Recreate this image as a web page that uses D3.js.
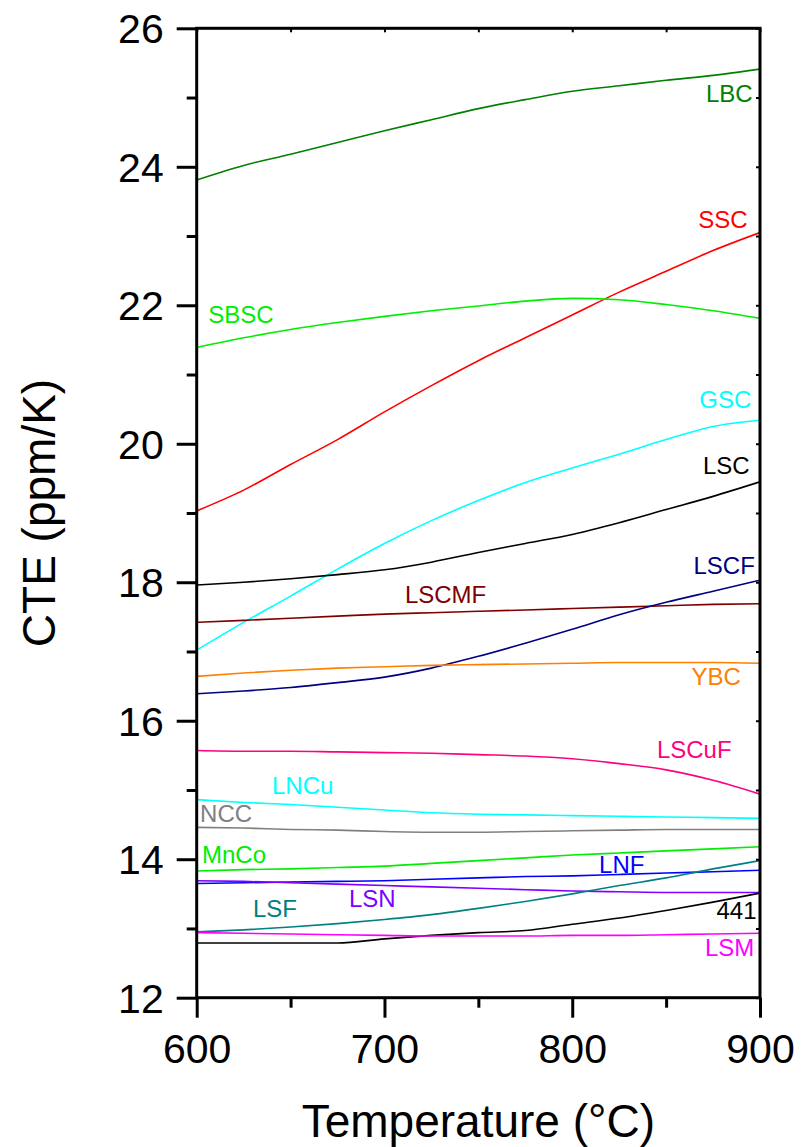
<!DOCTYPE html>
<html>
<head>
<meta charset="utf-8">
<script src="https://cdn.jsdelivr.net/npm/d3@7"></script>
<style>
  html, body { margin: 0; padding: 0; background: #fff; }
  svg { display: block; font-family: "Liberation Sans", Arial, sans-serif; }
</style>
</head>
<body>
<svg id="chart" width="801" height="1147"></svg>
<script>
// ---------- DATA ----------
const temps = [600, 625, 650, 675, 700, 725, 750, 775, 800, 825, 850, 875, 900];

const cteLBC   = [23.81, 24.02, 24.18, 24.35, 24.52, 24.68, 24.84, 24.97, 25.09, 25.17, 25.25, 25.32, 25.41];
const cteSSC   = [19.03, 19.33, 19.70, 20.06, 20.46, 20.84, 21.20, 21.53, 21.86, 22.19, 22.49, 22.79, 23.05];
const cteSBSC  = [21.39, 21.53, 21.65, 21.75, 21.84, 21.92, 21.99, 22.06, 22.10, 22.08, 22.01, 21.92, 21.81];
const cteGSC   = [17.02, 17.42, 17.80, 18.19, 18.56, 18.89, 19.18, 19.44, 19.65, 19.85, 20.06, 20.25, 20.34];
const cteLSC   = [17.96, 18.00, 18.05, 18.11, 18.18, 18.29, 18.43, 18.56, 18.69, 18.86, 19.05, 19.24, 19.45];
const cteLSCMF = [17.42, 17.45, 17.48, 17.51, 17.54, 17.56, 17.58, 17.60, 17.62, 17.64, 17.66, 17.68, 17.69];
const cteLSCF  = [16.39, 16.43, 16.48, 16.55, 16.63, 16.76, 16.93, 17.12, 17.32, 17.53, 17.71, 17.87, 18.03];
const cteYBC   = [16.64, 16.69, 16.73, 16.76, 16.78, 16.80, 16.81, 16.82, 16.83, 16.84, 16.84, 16.84, 16.83];
const cteLSCuF = [15.57, 15.56, 15.56, 15.55, 15.54, 15.53, 15.51, 15.49, 15.45, 15.38, 15.29, 15.14, 14.94];
const cteLNCu  = [14.86, 14.82, 14.79, 14.75, 14.71, 14.67, 14.65, 14.64, 14.63, 14.62, 14.61, 14.60, 14.59];
const cteNCC   = [14.46, 14.45, 14.43, 14.42, 14.40, 14.39, 14.39, 14.40, 14.41, 14.42, 14.43, 14.43, 14.43];
const cteMnCo  = [13.83, 13.85, 13.86, 13.88, 13.90, 13.94, 13.98, 14.02, 14.06, 14.09, 14.12, 14.15, 14.18];
const cteLNF   = [13.65, 13.66, 13.67, 13.68, 13.69, 13.71, 13.73, 13.75, 13.76, 13.78, 13.80, 13.82, 13.84];
const cteLSN   = [13.69, 13.68, 13.66, 13.64, 13.62, 13.60, 13.58, 13.56, 13.54, 13.53, 13.52, 13.52, 13.52];
const cteLSF   = [12.95, 12.98, 13.02, 13.07, 13.13, 13.20, 13.29, 13.39, 13.50, 13.62, 13.73, 13.86, 13.98];
const cte441   = [12.79, 12.79, 12.79, 12.79, 12.85, 12.90, 12.94, 12.97, 13.06, 13.15, 13.26, 13.38, 13.51];
const cteLSM   = [12.94, 12.93, 12.92, 12.91, 12.90, 12.89, 12.89, 12.89, 12.90, 12.90, 12.91, 12.92, 12.93];

const seriesNames = ["LBC","SSC","SBSC","GSC","LSC","LSCMF","LSCF","YBC","LSCuF","LNCu","NCC","MnCo","LNF","LSN","LSF","441","LSM"];
const seriesValues = [cteLBC, cteSSC, cteSBSC, cteGSC, cteLSC, cteLSCMF, cteLSCF, cteYBC, cteLSCuF, cteLNCu, cteNCC, cteMnCo, cteLNF, cteLSN, cteLSF, cte441, cteLSM];

// label anchor (temperature, CTE) for each series' text, same order as seriesNames
const labelTemps = [871.2, 867.1, 606.2, 867.7, 869.6, 710.9, 864.6, 863.5, 845.1, 640.1, 601.8, 602.8, 814.3, 681.1, 630.0, 876.8, 870.7];
const labelCTE   = [24.94, 23.11, 21.74, 20.51, 19.57, 17.70, 18.12, 16.52, 15.46, 14.94, 14.54, 13.95, 13.80, 13.31, 13.17, 13.14, 12.60];

const xTickValues = [600, 700, 800, 900];
const xMinorValues = [650, 750, 850];
const yTickValues = [12, 14, 16, 18, 20, 22, 24, 26];
const yMinorValues = [13, 15, 17, 19, 21, 23, 25];

const xTitle = "Temperature (°C)";
const yTitle = "CTE (ppm/K)";

// ---------- STYLE ----------
const colors = {
  LBC: "#008000", SSC: "#FF0000", SBSC: "#00EE00", GSC: "#00FFFF", LSC: "#000000",
  LSCMF: "#800000", LSCF: "#000080", YBC: "#FF8000", LSCuF: "#FF0080", LNCu: "#00FFFF",
  NCC: "#808080", MnCo: "#00EE00", LNF: "#0000FF", LSN: "#8000FF", LSF: "#008080",
  "441": "#000000", LSM: "#FF00FF"
};

const mLeft = 196.7, mRight = 760, mTop = 28.3, mBottom = 997.7;

const svg = d3.select("#chart");
const x = d3.scaleLinear().domain([600, 900]).range([mLeft, mRight]);
const y = d3.scaleLinear().domain([12, 26]).range([mBottom, mTop]);

// clip
svg.append("defs").append("clipPath").attr("id", "clip")
  .append("rect").attr("x", mLeft).attr("y", mTop).attr("width", mRight - mLeft).attr("height", mBottom - mTop);

const line = d3.line()
  .x(d => x(d[0]))
  .y(d => y(d[1]))
  .curve(d3.curveMonotoneX);

const plot = svg.append("g").attr("clip-path", "url(#clip)");
seriesNames.forEach((name, i) => {
  const pts = temps.map((t, j) => [t, seriesValues[i][j]]);
  plot.append("path")
    .attr("d", line(pts))
    .attr("fill", "none")
    .attr("stroke", colors[name])
    .attr("stroke-width", 1.6)
    .attr("stroke-linejoin", "round");
});

// labels
seriesNames.forEach((name, i) => {
  svg.append("text")
    .attr("x", x(labelTemps[i]))
    .attr("y", y(labelCTE[i]))
    .attr("fill", colors[name])
    .attr("font-size", 24)
    .text(name);
});

// axes
const axW = 3;
const fontFam = "'Liberation Sans', Arial, sans-serif";
// bottom axis
const xAxisB = d3.axisBottom(x).tickValues(xTickValues).tickSize(20).tickSizeOuter(0).tickFormat(d3.format("d"));
const gB = svg.append("g").attr("transform", `translate(0,${mBottom})`).call(xAxisB);
gB.select(".domain").remove();
gB.selectAll(".tick line").attr("stroke", "#000").attr("stroke-width", axW);
gB.selectAll(".tick text").attr("font-size", 41).attr("fill", "#000")
  .attr("font-family", fontFam)
  .attr("y", 0).attr("dy", 65);
const gBm = svg.append("g").attr("transform", `translate(0,${mBottom})`)
  .call(d3.axisBottom(x).tickValues(xMinorValues).tickSize(10).tickSizeOuter(0).tickFormat(""));
gBm.select(".domain").remove();
gBm.selectAll(".tick line").attr("stroke", "#000").attr("stroke-width", axW);

// left axis
const yAxisL = d3.axisLeft(y).tickValues(yTickValues).tickSize(20).tickSizeOuter(0).tickFormat(d3.format("d"));
const gL = svg.append("g").attr("transform", `translate(${mLeft},0)`).call(yAxisL);
gL.select(".domain").remove();
gL.selectAll(".tick line").attr("stroke", "#000").attr("stroke-width", axW);
gL.selectAll(".tick text").attr("font-size", 41).attr("fill", "#000")
  .attr("font-family", fontFam)
  .attr("x", -33).attr("dy", "0.35em");
const gLm = svg.append("g").attr("transform", `translate(${mLeft},0)`)
  .call(d3.axisLeft(y).tickValues(yMinorValues).tickSize(10).tickSizeOuter(0).tickFormat(""));
gLm.select(".domain").remove();
gLm.selectAll(".tick line").attr("stroke", "#000").attr("stroke-width", axW);

// top axis (small inward ticks)
const gT = svg.append("g").attr("transform", `translate(0,${mTop})`)
  .call(d3.axisBottom(x).tickValues(xTickValues.concat(xMinorValues)).tickSize(4).tickSizeOuter(0).tickFormat(""));
gT.select(".domain").remove();
gT.selectAll(".tick line").attr("stroke", "#000").attr("stroke-width", 2);
// right axis (small inward ticks)
const gR = svg.append("g").attr("transform", `translate(${mRight},0)`)
  .call(d3.axisLeft(y).tickValues(yTickValues.concat(yMinorValues)).tickSize(4).tickSizeOuter(0).tickFormat(""));
gR.select(".domain").remove();
gR.selectAll(".tick line").attr("stroke", "#000").attr("stroke-width", 2);

// frame
svg.append("rect")
  .attr("x", mLeft).attr("y", mTop)
  .attr("width", mRight - mLeft).attr("height", mBottom - mTop)
  .attr("fill", "none").attr("stroke", "#000").attr("stroke-width", axW)
  .attr("stroke-linecap", "square");

// titles
svg.append("text")
  .attr("x", (mLeft + mRight) / 2).attr("y", 1137)
  .attr("text-anchor", "middle").attr("font-size", 46).attr("fill", "#000")
  .text(xTitle);
svg.append("text")
  .attr("transform", `translate(55,${(mTop + mBottom) / 2}) rotate(-90)`)
  .attr("text-anchor", "middle").attr("font-size", 46).attr("fill", "#000")
  .text(yTitle);
</script>
</body>
</html>
